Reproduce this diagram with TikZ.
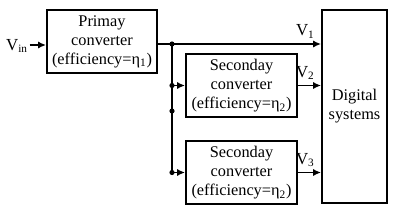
\documentclass[tikz,border=0pt]{standalone}
\usepackage{fontspec}
\setmainfont{Liberation Serif}
\usepackage{tikz}
\usetikzlibrary{arrows.meta,positioning,calc}

\begin{document}
\begin{tikzpicture}[
  x=0.025cm, y=-0.025cm,
  blk/.style={draw, line width=1.3pt, align=center, inner sep=1pt, font=\fontsize{11.6}{13.6}\selectfont},
  arr/.style={-{Latex[length=2mm,width=1.8mm]}, line width=1.3pt},
  wire/.style={line width=1.3pt},
  lbl/.style={font=\fontsize{12}{13}\selectfont, inner sep=1pt}
]
\useasboundingbox (0,0) rectangle (400,217);
\node[blk, minimum width=2.75cm, minimum height=1.575cm] (prim) at (102,41.5) {Primay\\converter\\(efficiency=η\textsubscript{1})};
\node[blk, minimum width=2.775cm, minimum height=1.575cm] (sec1) at (241.5,85.5) {Seconday\\converter\\(efficiency=η\textsubscript{2})};
\node[blk, minimum width=2.775cm, minimum height=1.575cm] (sec2) at (241.5,172.5) {Seconday\\converter\\(efficiency=η\textsubscript{2})};
\node[blk, minimum width=1.625cm, minimum height=4.825cm] (dig) at (354.5,106.5) {Digital\\systems};
\node[lbl] (vin) at (17,46) {V\textsubscript{in}};
\coordinate (j1) at (172,44);
\coordinate (j2) at (172,85.5);
\coordinate (j3) at (172,111);
\coordinate (j4) at (172,172.5);
% input and main bus
\draw[arr] (vin.east |- 0,45) -- (prim.west |- 0,45);
\draw[arr] (prim.east |- j1) -- (dig.west |- j1) node[lbl, above left=2.5pt and 3pt]{V\textsubscript{1}};
\draw[wire] (j1) -- (j4);
\draw[arr] (j2) -- (sec1.west);
\draw[arr] (j4) -- (sec2.west);
\draw[arr] (sec1.east) -- (dig.west |- sec1.east) node[lbl, above left=2.5pt and 3pt]{V\textsubscript{2}};
\draw[arr] (sec2.east) -- (dig.west |- sec2.east) node[lbl, above left=2.5pt and 3pt]{V\textsubscript{3}};
\foreach \j in {j1,j2,j3,j4} \fill (\j) circle (2.6);
\end{tikzpicture}
\end{document}
